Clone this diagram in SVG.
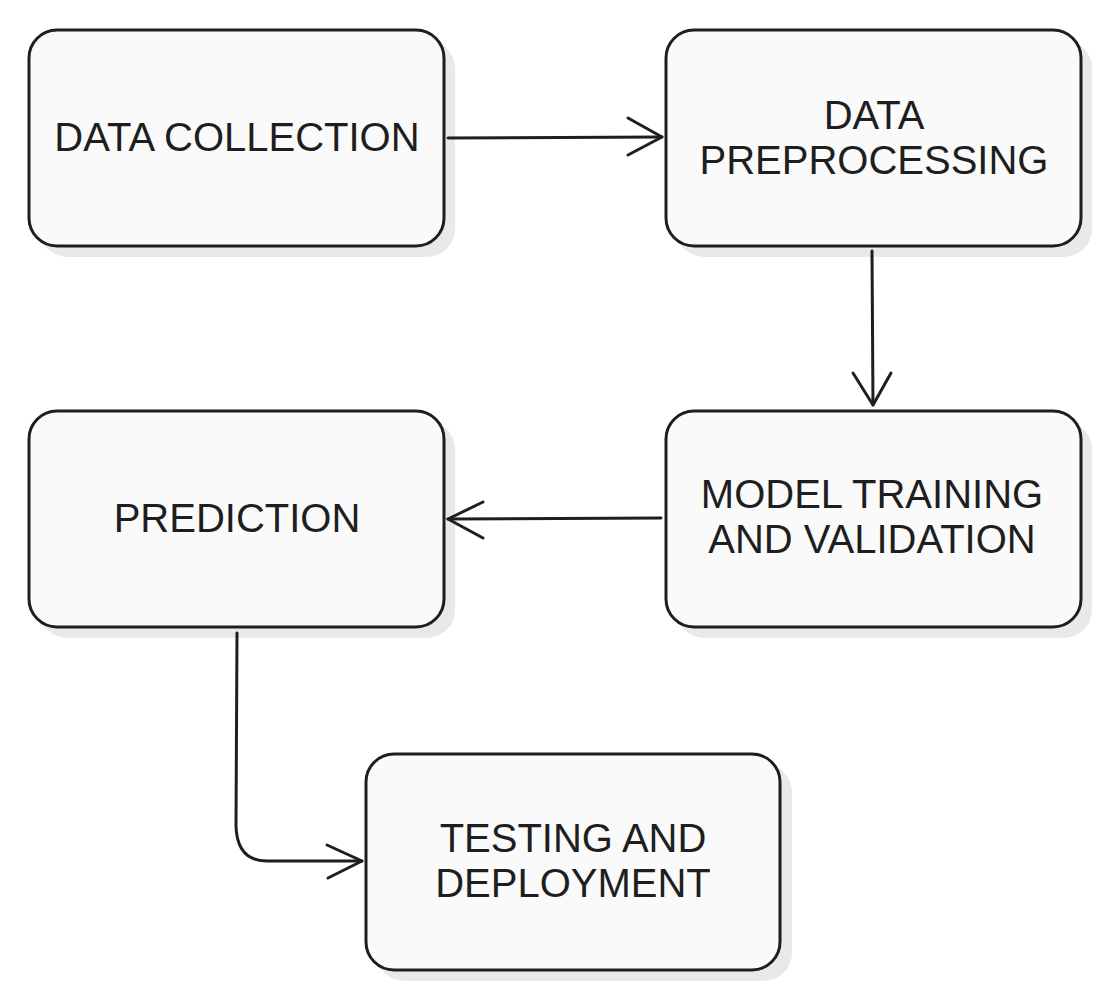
<svg xmlns="http://www.w3.org/2000/svg" width="1109" height="999" viewBox="0 0 1109 999">
<defs>
<style>
.shadow{fill:#e9e9e9;stroke:none}
.box{fill:#fafafa;stroke:#1e1e1e;stroke-width:3}
.lbl{font-family:"Liberation Sans",Arial,sans-serif;font-size:40px;fill:#1e1e1e;text-anchor:middle}
.edge{fill:none;stroke:#1e1e1e;stroke-width:3;stroke-linecap:round;stroke-linejoin:round}
</style>
</defs>
<rect width="1109" height="999" fill="#ffffff"/>
<g id="node-data-collection">
<rect class="shadow" x="39" y="40" width="416" height="217" rx="28"/>
<rect class="box" x="29" y="30" width="415" height="216" rx="28"/>
<text class="lbl" x="237" y="151">DATA COLLECTION</text>
</g>
<g id="node-data-preprocessing">
<rect class="shadow" x="676" y="40" width="416" height="217" rx="28"/>
<rect class="box" x="666" y="30" width="415" height="216" rx="28"/>
<text class="lbl" x="874" y="128.5">DATA</text>
<text class="lbl" x="874" y="174">PREPROCESSING</text>
</g>
<g id="node-model-training">
<rect class="shadow" x="676" y="421" width="416" height="217" rx="28"/>
<rect class="box" x="666" y="411" width="415" height="216" rx="28"/>
<text class="lbl" x="872" y="508">MODEL TRAINING</text>
<text class="lbl" x="872" y="553">AND VALIDATION</text>
</g>
<g id="node-prediction">
<rect class="shadow" x="39" y="421" width="416" height="217" rx="28"/>
<rect class="box" x="29" y="411" width="415" height="216" rx="28"/>
<text class="lbl" x="237" y="532">PREDICTION</text>
</g>
<g id="node-testing-deployment">
<rect class="shadow" x="376" y="764" width="416" height="217" rx="28"/>
<rect class="box" x="366" y="754" width="414" height="216" rx="28"/>
<text class="lbl" x="573" y="852">TESTING AND</text>
<text class="lbl" x="573" y="897">DEPLOYMENT</text>
</g>
<g id="connectors">
<path class="edge" d="M448 138 L662 137"/>
<path class="edge" d="M628 118 L662 137 L628 155"/>
<path class="edge" d="M872 251 L873 405"/>
<path class="edge" d="M853 373 L873 405 L891 373"/>
<path class="edge" d="M661 518 L448 519"/>
<path class="edge" d="M483 502 L448 519 L483 538"/>
<path class="edge" d="M237 633 L236 826 Q237 861 267 861 L362 861"/>
<path class="edge" d="M327 845 L362 861 L328 878"/>
</g>
</svg>
